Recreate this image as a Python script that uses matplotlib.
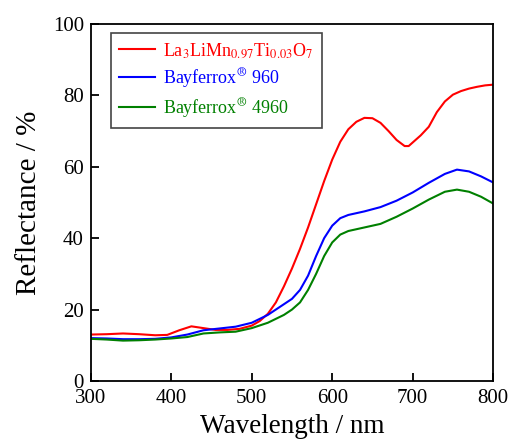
import matplotlib
matplotlib.use('Agg')
import matplotlib.pyplot as plt
import numpy as np

# 字体：Times 风格
plt.rcParams['font.family'] = ['Liberation Serif', 'DejaVu Serif']
plt.rcParams['mathtext.fontset'] = 'stix'

# 数据
wl_red = [300, 320, 340, 360, 380, 395, 410, 425, 440, 455, 470, 485, 500, 510, 520, 530,
          540, 550, 560, 570, 580, 590, 600, 610, 620, 630, 640, 650, 660, 670, 680, 690,
          695, 700, 710, 720, 730, 740, 750, 760, 770, 780, 790, 800]
refl_red = [13.0, 13.1, 13.3, 13.1, 12.8, 12.9, 14.2, 15.3, 14.8, 14.3, 14.3, 14.6, 15.5, 16.8,
            18.8, 22.0, 26.5, 31.5, 37.0, 43.0, 49.5, 56.0, 62.0, 67.0, 70.5, 72.6, 73.7, 73.6,
            72.3, 70.0, 67.5, 65.8, 65.8, 66.8, 68.8, 71.2, 75.3, 78.3, 80.2, 81.2, 81.9, 82.4,
            82.8, 83.0]

wl_other = [300, 320, 340, 360, 380, 400, 420, 440, 460, 480, 500, 520, 540, 550, 560, 570,
            580, 590, 600, 610, 620, 640, 660, 680, 700, 720, 740, 755, 770, 785, 800]
refl_blue = [12.0, 11.9, 11.7, 11.7, 11.8, 12.2, 13.0, 14.2, 14.7, 15.2, 16.3, 18.5, 21.5, 23.0,
             25.5, 29.5, 35.0, 40.0, 43.5, 45.6, 46.5, 47.5, 48.7, 50.5, 52.8, 55.5, 58.0, 59.2,
             58.7, 57.3, 55.6]
refl_green = [11.8, 11.6, 11.3, 11.4, 11.6, 11.9, 12.3, 13.3, 13.6, 13.8, 14.8, 16.3, 18.5, 20.0,
              22.0, 25.5, 30.0, 35.0, 38.8, 41.0, 42.0, 43.0, 44.0, 46.0, 48.3, 50.8, 53.0, 53.6,
              53.0, 51.6, 49.7]

labels = [r'La$_3$LiMn$_{0.97}$Ti$_{0.03}$O$_7$',
          r'Bayferrox$^{\circledR}$ 960',
          r'Bayferrox$^{\circledR}$ 4960']
colors = ['#ff0000', '#0000ff', '#008000']

fig = plt.figure(figsize=(5.10, 4.44), dpi=100)
ax = fig.add_axes([0.178, 0.142, 0.789, 0.804])

ax.plot(wl_red, refl_red, color=colors[0], lw=1.5, label=labels[0])
ax.plot(wl_other, refl_blue, color=colors[1], lw=1.5, label=labels[1])
ax.plot(wl_other, refl_green, color=colors[2], lw=1.5, label=labels[2])

ax.set_xlim(300, 800)
ax.set_ylim(0, 100)
ax.set_xticks(np.arange(300, 801, 100))
ax.set_yticks(np.arange(0, 101, 20))
ax.tick_params(direction='in', length=6, width=1.3, labelsize=15)
ax.tick_params(axis='x', pad=6)
ax.tick_params(axis='y', pad=5)
for s in ax.spines.values():
    s.set_linewidth(1.3)

ax.set_xlabel('Wavelength / nm', fontsize=19.5, labelpad=4)
ax.set_ylabel('Reflectance / %', fontsize=21, labelpad=8)

leg = ax.legend(loc='upper left', bbox_to_anchor=(0.05, 0.975), borderaxespad=0, fontsize=13,
                fancybox=False, edgecolor='#444444', framealpha=1, handlelength=2.0,
                handletextpad=0.45, borderpad=0.45, labelspacing=0.35)
leg.get_frame().set_linewidth(1.2)
for t, c in zip(leg.get_texts(), colors):
    t.set_color(c)

fig.savefig('out.png', dpi=100)
